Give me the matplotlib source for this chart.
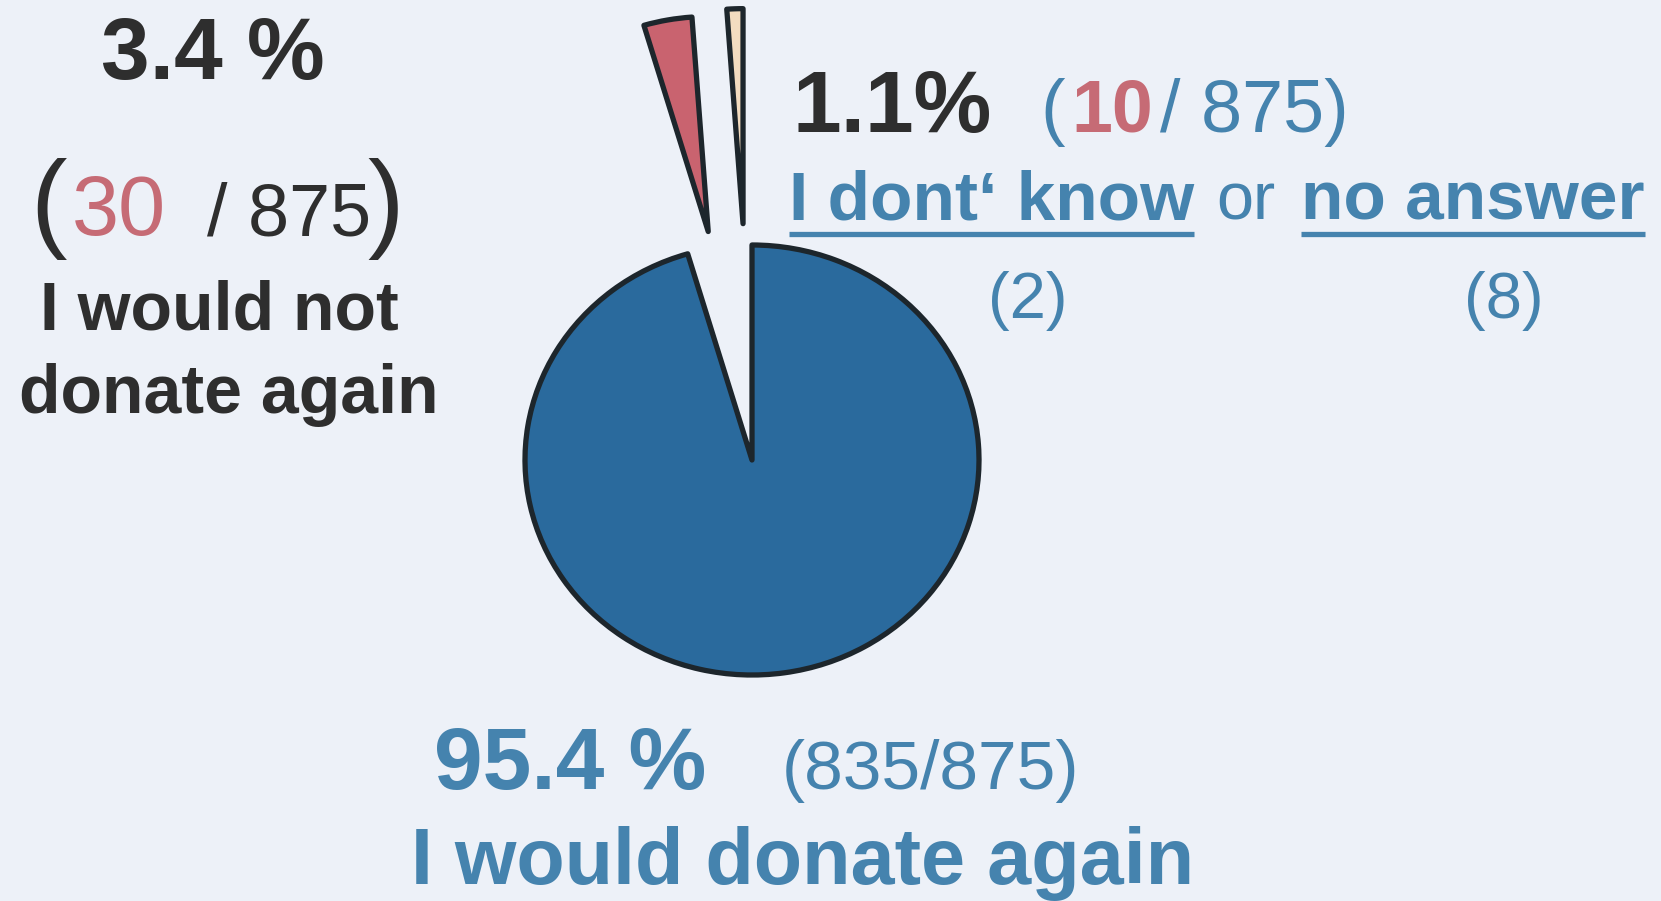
import matplotlib
matplotlib.use("Agg")
import matplotlib.pyplot as plt

# survey answers, "would you donate again?"
answers = ["I would donate again", "I would not donate again", "I dont' know / no answer"]
counts = [835, 30, 10]
total = 875
dont_know = 2
no_answer = 8

slice_colors = ["#2a6a9d", "#c9636f", "#f3dcc0"]
explode = [0, 1.08, 1.10]

BG = "#edf1f8"
DARK = "#2e2e2e"
BLUE = "#4583ae"
RED = "#c66b75"

pct = [100.0 * c / total for c in counts]

fig = plt.figure(figsize=(16.61, 9.01), dpi=100)
fig.patch.set_facecolor(BG)

# pie axes, pixel-ish scale so the pie comes out a bit wider than tall like the scan
ax = fig.add_axes([0, 0, 1, 1])
ax.pie(counts, colors=slice_colors, explode=explode, startangle=90, counterclock=False,
       wedgeprops=dict(edgecolor="#1d262c", linewidth=3.8, joinstyle="round"))
cx, cy, rx, ry = 752, 460, 227, 215
ax.set_aspect("auto")
ax.set_xlim(-cx / rx, (1661 - cx) / rx)
ax.set_ylim(-(901 - cy) / ry, cy / ry)
ax.axis("off")

# text axes in pixel coords (y down)
tx = fig.add_axes([0, 0, 1, 1], facecolor="none")
tx.set_xlim(0, 1661)
tx.set_ylim(901, 0)
tx.axis("off")

F = "Liberation Sans"

def txt(x, y, s, size, color, weight="normal", ha="left"):
    return tx.text(x, y, s, fontsize=size, color=color, fontweight=weight, ha=ha,
                   va="baseline", family=F)

# left block: would not donate
txt(213, 79, f"{pct[1]:.1f} %", 63, DARK, "bold", ha="center")
txt(30, 237, "(", 79, DARK)
txt(72, 235, f"{counts[1]}", 61, RED)
txt(207, 235, f"/ {total}", 53, DARK)
txt(367, 237, ")", 79, DARK)
txt(219, 330, "I would not", 49, DARK, "bold", ha="center")
txt(229, 413, "donate again", 49, DARK, "bold", ha="center")

# right block: don't know / no answer
txt(793, 132, f"{pct[2]:.1f}%", 63, DARK, "bold")
txt(1040, 132, "(", 53, BLUE)
txt(1071, 132, f"{counts[2]}", 53, RED, "bold")
txt(1160, 132, f"/ {total})", 53, BLUE)
t1 = txt(789, 220, "I dont\u2018 know", 50, BLUE, "bold")
txt(1216, 220, "or", 48, BLUE)
t2 = txt(1301, 220, "no answer", 50, BLUE, "bold")
txt(1028, 318, f"({dont_know})", 47, BLUE, ha="center")
txt(1504, 318, f"({no_answer})", 47, BLUE, ha="center")

# underlines under the two answer options
fig.canvas.draw()
inv = tx.transData.inverted()
for t in (t1, t2):
    bb = t.get_window_extent()
    x0, _ = inv.transform((bb.x0, bb.y0))
    x1, _ = inv.transform((bb.x1, bb.y0))
    tx.plot([x0, x1], [234, 234], color=BLUE, linewidth=3.8, solid_capstyle="butt")

# bottom block: would donate again
txt(434, 789, f"{pct[0]:.1f} %", 63, BLUE, "bold")
txt(782, 789, f"({counts[0]}/{total})", 50, BLUE)
txt(803, 884, answers[0], 57, BLUE, "bold", ha="center")

fig.savefig("out.png", dpi=100, facecolor=fig.get_facecolor())
